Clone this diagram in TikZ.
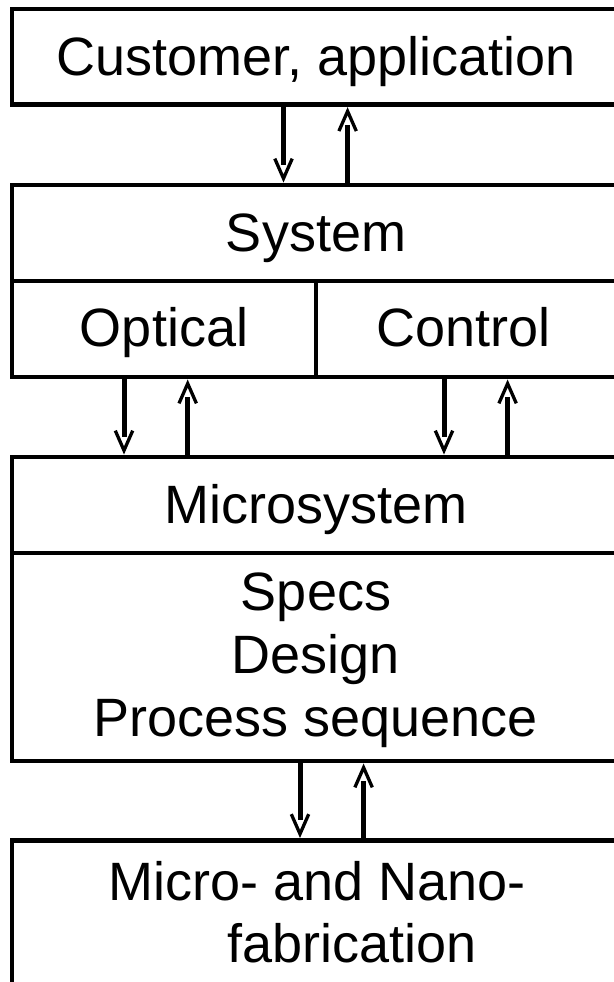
\documentclass[tikz,border=0pt]{standalone}
\usepackage{fontspec}
\setmainfont{Liberation Sans}
\usetikzlibrary{decorations.markings}
\begin{document}
\begin{tikzpicture}[x=1pt,y=-1pt,
  box/.style={draw, line width=4.7pt, inner sep=0pt},
  lbl/.style={inner sep=0pt, font=\fontsize{54}{63}\selectfont},
  flow/.style={line width=5pt, shorten >=18pt, postaction={decorate},
    decoration={markings, mark=at position 0.9999 with {\draw[line width=3.3pt, shorten >=0pt, miter limit=10] (-24pt,8.7pt) -- (-4.2pt,0pt) -- (-24pt,-8.7pt);}}}]
\useasboundingbox (0,0) rectangle (613,982);
% boxes
\node[box, minimum width=608pt, minimum height=95.7pt] (cust) at (316,56.85) {};
\node[box, minimum width=608pt, minimum height=96pt] (systop) at (316,233) {};
\node[box, minimum width=304pt, minimum height=96pt] (optical) at (164,329) {};
\node[box, minimum width=304pt, minimum height=96pt] (control) at (468,329) {};
\node[box, minimum width=608pt, minimum height=96pt] (mtop) at (316,505) {};
\node[box, minimum width=608pt, minimum height=208pt] (mbody) at (316,657) {};
\node[box, minimum width=608pt, minimum height=159.5pt] (fab) at (316,920.25) {};
% labels
\node[lbl, anchor=base] (tcust) at (316.5,75.5) {Customer, application};
\node[lbl, anchor=base] (tsys) at (316,251) {System};
\node[lbl, anchor=base] (topt) at (164,346) {Optical};
\node[lbl, anchor=base] (tctl) at (463.5,346) {Control};
\node[lbl, anchor=base] (tmic) at (316,523) {Microsystem};
\node[lbl, anchor=base] (tspecs) at (316,610) {Specs};
\node[lbl, anchor=base] (tdesign) at (316,673) {Design};
\node[lbl, anchor=base] (tproc) at (316,736) {Process sequence};
\node[lbl, anchor=base west] (tfab1) at (108.5,900) {Micro- and Nano-};
\node[lbl, anchor=base west] (tfab2) at (227,962) {fabrication};
% arrow positions
\coordinate (a1) at (283.5,0);
\coordinate (a2) at (347.6,0);
\coordinate (b1) at (124,0);
\coordinate (b2) at (187.7,0);
\coordinate (c1) at (444,0);
\coordinate (c2) at (507.6,0);
\coordinate (d1) at (300,0);
\coordinate (d2) at (363.6,0);
% connectors
\draw[flow] (cust.south -| a1) -- (systop.north -| a1);
\draw[flow] (systop.north -| a2) -- (cust.south -| a2);
\draw[flow] (optical.south -| b1) -- (mtop.north -| b1);
\draw[flow] (mtop.north -| b2) -- (optical.south -| b2);
\draw[flow] (control.south -| c1) -- (mtop.north -| c1);
\draw[flow] (mtop.north -| c2) -- (control.south -| c2);
\draw[flow] (mbody.south -| d1) -- (fab.north -| d1);
\draw[flow] (fab.north -| d2) -- (mbody.south -| d2);
\end{tikzpicture}
\end{document}
